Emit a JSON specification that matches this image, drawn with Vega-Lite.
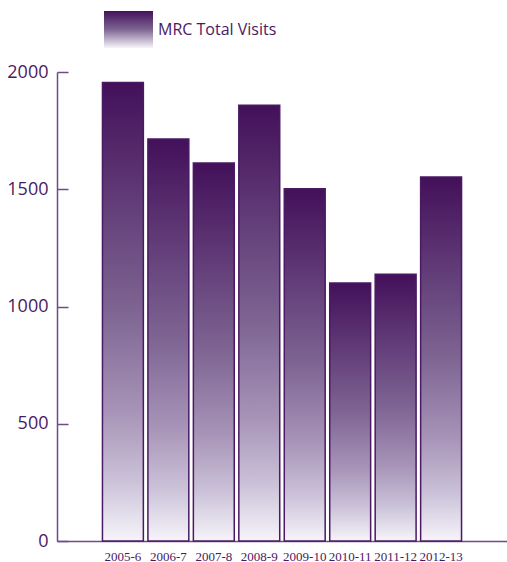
{
  "$schema": "https://vega.github.io/schema/vega-lite/v6.json",
  "width": 450,
  "height": 469,
  "autosize": {"type": "none"},
  "padding": {"left": 57, "top": 72, "right": 0, "bottom": 21},
  "background": "white",
  "config": {"view": {"stroke": null}},
  "data": {
    "values": [
      {"year": "2005-6", "visits": 1955},
      {"year": "2006-7", "visits": 1714},
      {"year": "2007-8", "visits": 1612},
      {"year": "2008-9", "visits": 1858},
      {"year": "2009-10", "visits": 1502},
      {"year": "2010-11", "visits": 1100},
      {"year": "2011-12", "visits": 1138},
      {"year": "2012-13", "visits": 1552}
    ]
  },
  "encoding": {
    "x": {
      "field": "year",
      "type": "nominal",
      "sort": null,
      "scale": {"paddingInner": 0.1, "paddingOuter": 1.0},
      "axis": {
        "title": null,
        "labelAngle": 0,
        "ticks": false,
        "domainColor": "#6d4c89",
        "domainWidth": 1.5,
        "labelFont": "Liberation Sans Narrow",
        "labelFontSize": 13,
        "labelColor": "#4a1a62",
        "labelPadding": 9
      }
    }
  },
  "resolve": {"axis": {"y": "independent"}},
  "layer": [
    {
      "mark": {
        "type": "bar",
        "stroke": "#4a1a62",
        "strokeWidth": 1.5,
        "fill": {
          "gradient": "linear",
          "x1": 0, "y1": 0, "x2": 0, "y2": 1,
          "stops": [
            {"offset": 0, "color": "#43105a"},
            {"offset": 0.5, "color": "#7e6593"},
            {"offset": 0.72, "color": "#a894b8"},
            {"offset": 0.87, "color": "#cbc2d9"},
            {"offset": 1, "color": "#f6f4f9"}
          ]
        }
      },
      "encoding": {
        "y": {
          "field": "visits",
          "type": "quantitative",
          "scale": {"domain": [0, 2000], "nice": false},
          "axis": {
            "title": null,
            "orient": "left",
            "values": [0, 500, 1000, 1500, 2000],
            "format": "d",
            "grid": false,
            "ticks": false,
            "domainColor": "#6d4c89",
            "domainWidth": 1.5,
            "labelPadding": 9,
            "labelFont": "Open Sans",
            "labelFontSize": 18,
            "labelColor": "#4a1a62"
          }
        }
      }
    },
    {
      "mark": {"type": "bar", "opacity": 0},
      "encoding": {
        "y": {
          "field": "visits",
          "type": "quantitative",
          "scale": {"domain": [0, 2000], "nice": false},
          "axis": {
            "title": null,
            "orient": "right",
            "offset": -450,
            "values": [0, 500, 1000, 1500, 2000],
            "grid": false,
            "domain": false,
            "labels": false,
            "ticks": true,
            "tickSize": 11,
            "tickColor": "#6d4c89",
            "tickWidth": 1.5
          }
        },
        "color": {
          "field": "visits",
          "type": "quantitative",
          "scale": {
            "domain": [0, 1000, 2000],
            "range": ["#f6f4f9", "#7e6593", "#43105a"],
            "interpolate": "rgb"
          },
          "legend": {
            "type": "gradient",
            "direction": "vertical",
            "title": null,
            "orient": "none",
            "legendX": 47,
            "legendY": -61,
            "padding": 0,
            "gradientLength": 37,
            "gradientThickness": 49,
            "gradientStrokeWidth": 0,
            "gradientOpacity": 1,
            "values": [1000],
            "labelExpr": "'MRC Total Visits'",
            "labelFont": "Open Sans",
            "labelFontSize": 16,
            "labelColor": "#4a1a62",
            "labelOpacity": 1,
            "labelOffset": 5,
            "labelLimit": 300,
            "labelBaseline": "middle",
            "labelAlign": "left",
            "labelOverlap": false,
            "labelFlush": false
          }
        }
      }
    }
  ]
}
